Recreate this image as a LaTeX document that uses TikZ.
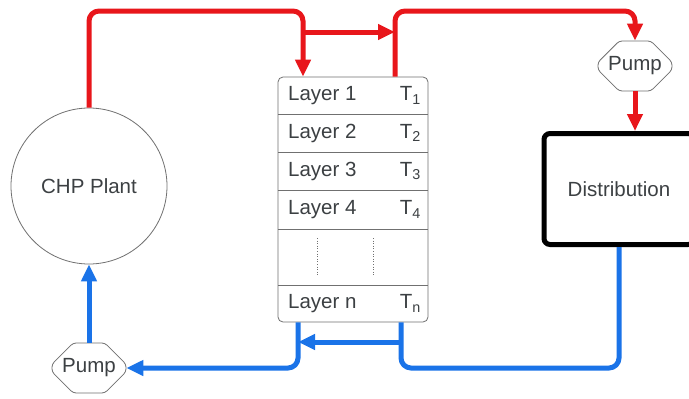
\documentclass[tikz,border=0pt]{standalone}
\usepackage{fontspec}
\setmainfont{Liberation Sans}
\usetikzlibrary{arrows.meta,shapes.misc}
\definecolor{flowred}{HTML}{E8161B}
\definecolor{flowblue}{HTML}{1A73E8}
\definecolor{txt}{HTML}{3C4043}
\definecolor{edge}{HTML}{707070}
\begin{document}
\begin{tikzpicture}[x=1pt,y=-1pt,
  lbl/.style={text=txt,font=\fontsize{20.5}{24}\selectfont,inner sep=0pt},
  redflow/.style={draw=flowred,line width=5pt,rounded corners=10pt},
  blueflow/.style={draw=flowblue,line width=5pt,rounded corners=10pt},
  tip/.style={-{Triangle[width=15pt,length=17pt]}},
  pumpbox/.style={chamfered rectangle,chamfered rectangle xsep=11pt,chamfered rectangle ysep=12pt,
    draw=edge,line width=0.8pt,fill=white,minimum width=74pt,minimum height=50pt,inner sep=0pt,
    text=txt,font=\fontsize{20.5}{24}\selectfont,rounded corners=3pt},
  rowline/.style={draw=edge,line width=0.8pt}
]
\clip (0,0) rectangle (689,399);
\fill[white] (0,0) rectangle (689,399);

% nodes
\node[circle,draw=edge,line width=0.8pt,minimum size=156pt,inner sep=0pt,text=txt,
  font=\fontsize{20.5}{24}\selectfont] (chp) at (89,186) {CHP Plant};
\node[draw=black,line width=5pt,rounded corners=6pt,minimum width=150pt,minimum height=111pt,
  inner sep=0pt,text=txt,font=\fontsize{20.5}{24}\selectfont] (dist) at (619,189) {Distribution};
\node[pumpbox] (pumpA) at (635,66) {Pump};
\node[pumpbox] (pumpB) at (89,368) {Pump};

\node[draw=edge,line width=0.8pt,rounded corners=5pt,minimum width=150pt,minimum height=245pt,
  inner sep=0pt] (tank) at (353,199.5) {};
\foreach \y in {114,152,190,229,285} \draw[rowline] (278,\y) -- (428,\y);
\draw[edge,line width=0.6pt,dotted] (317,238) -- (317,276);
\draw[edge,line width=0.6pt,dotted] (373,238) -- (373,276);

\node[lbl,anchor=west] (l1) at (288,95.5) {Layer 1};
\node[lbl,anchor=west] (l2) at (288,133) {Layer 2};
\node[lbl,anchor=west] (l3) at (288,171) {Layer 3};
\node[lbl,anchor=west] (l4) at (288,209.5) {Layer 4};
\node[lbl,anchor=west] (ln) at (288,303.5) {Layer n};
\node[lbl,anchor=east] (t1) at (421,95.5) {T\textsubscript{1}};
\node[lbl,anchor=east] (t2) at (421,133) {T\textsubscript{2}};
\node[lbl,anchor=east] (t3) at (421,171) {T\textsubscript{3}};
\node[lbl,anchor=east] (t4) at (421,209.5) {T\textsubscript{4}};
\node[lbl,anchor=east] (tn) at (421,303.5) {T\textsubscript{n}};

% coordinates
\coordinate (rTop) at (303,11);
\coordinate (rBr) at (303,32);
\coordinate (rIn) at (395,32);
\coordinate (rTop2) at (395,11);
\coordinate (bBot) at (401,368);
\coordinate (bBr) at (401,342);
\coordinate (bOut) at (298,342);
\coordinate (bBot2) at (298,368);

% red flows
\draw[redflow,tip] (chp.north) |- (rTop) -- (rTop |- tank.north);
\draw[redflow,tip] (rBr) -- (rIn);
\draw[redflow,tip] (rTop2 |- tank.north) |- (pumpA.north |- rTop2) -- (pumpA.north);
\draw[redflow,tip] (pumpA.south) -- (pumpA.south |- dist.north);

% blue flows
\draw[blueflow] (dist.south) |- (bBot) -- (bBot |- tank.south);
\draw[blueflow,tip] (bBr) -- (bOut);
\draw[blueflow,tip] (bBot2 |- tank.south) |- (pumpB.east);
\draw[blueflow,tip] (pumpB.north) -- (chp.south);
\end{tikzpicture}
\end{document}
